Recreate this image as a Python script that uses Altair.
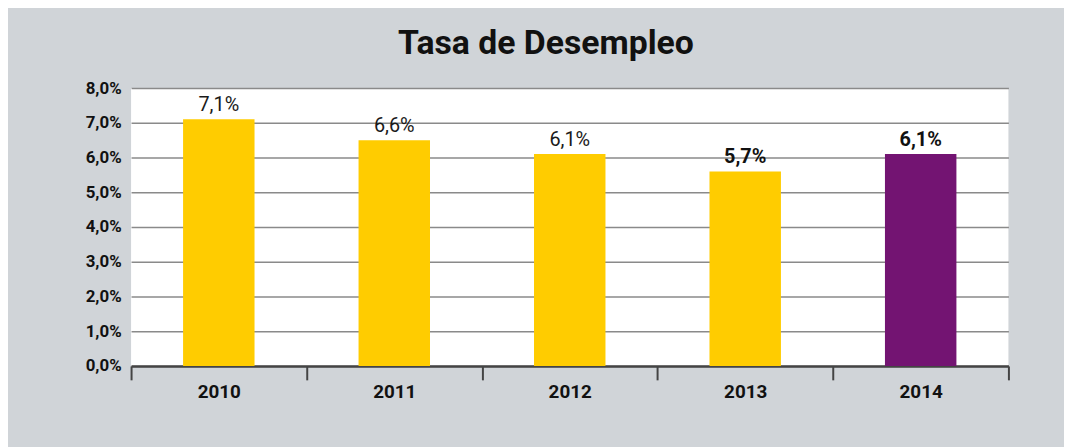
import altair as alt
import pandas as pd

years = ["2010", "2011", "2012", "2013", "2014"]
values = [7.1, 6.5, 6.1, 5.6, 6.1]
labels = ["7,1%", "6,6%", "6,1%", "5,7%", "6,1%"]
weights = ["normal", "normal", "normal", "bold", "bold"]
colors = ["#FFCC00", "#FFCC00", "#FFCC00", "#FFCC00", "#731472"]
y_ticks = [0, 1, 2, 3, 4, 5, 6, 7, 8]

df = pd.DataFrame({"year": years, "value": values, "label": labels,
                   "weight": weights, "color": colors})

FONT = "Roboto"

x = alt.X("year:N", title=None,
          scale=alt.Scale(paddingInner=0, paddingOuter=0),
          axis=alt.Axis(labelAngle=0, labelFontSize=19, labelFontWeight="bold",
                        labelColor="#111111", labelFont=FONT, labelPadding=3,
                        tickSize=14, tickWidth=2, tickColor="#444444",
                        tickBand="extent", domainColor="#444444", domainWidth=2.5,
                        grid=False))
y = alt.Y("value:Q", title=None,
          scale=alt.Scale(domain=[0, 8], nice=False),
          axis=alt.Axis(values=y_ticks,
                        labelExpr="replace(format(datum.value, '.1f'), '.', ',') + '%'",
                        labelFontSize=17, labelFontWeight="bold", labelColor="#111111",
                        labelFont=FONT, labelPadding=10, ticks=False, domain=False,
                        labelOverlap=False,
                        grid=True, gridColor="#8a8a8a", gridWidth=1.5))

base = alt.Chart(df).encode(x=x, y=y)

bars = base.mark_bar(width=72).encode(color=alt.Color("color:N", scale=None))

text_normal = base.transform_filter("datum.weight == 'normal'").mark_text(
    baseline="alphabetic", dy=-8, fontSize=20, font=FONT, color="#1a1a1a",
    fontWeight="normal"
).encode(text="label:N")

text_bold = base.transform_filter("datum.weight == 'bold'").mark_text(
    baseline="alphabetic", dy=-8, fontSize=20, font=FONT, color="#111111",
    fontWeight="bold"
).encode(text="label:N")

chart = alt.layer(bars, text_normal, text_bold).properties(
    width=884, height=280,
    title=alt.TitleParams("Tasa de Desempleo", fontSize=34, fontWeight="bold",
                          font=FONT, color="#111111", anchor="middle", dx=-24,
                          offset=18),
    background="#d0d4d8",
    padding={"left": 124, "top": 79, "right": 56, "bottom": 80},
    autosize=alt.AutoSizeParams(type="none"),
).configure_view(fill="white", stroke=None)

chart.save("out.html", embed_options={"renderer": "svg", "actions": False})
